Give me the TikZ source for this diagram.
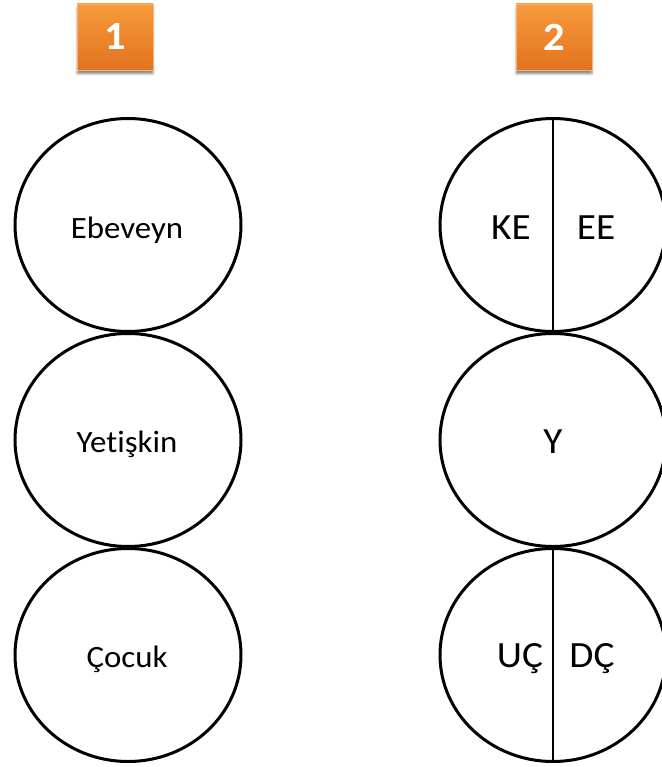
\documentclass[tikz,border=0pt]{standalone}
\usepackage{fontspec}
\setmainfont[Ligatures=NoCommon, FakeStretch=1.06]{Carlito}
\usetikzlibrary{shapes.geometric,shadows.blur}
\definecolor{orangetop}{HTML}{F89B3C}
\definecolor{orangebot}{HTML}{E2721F}
\definecolor{orangeedge}{HTML}{F6B27A}
\tikzset{
  egostate/.style={ellipse, draw=black, line width=3pt, minimum width=226pt, minimum height=213pt, inner sep=0pt},
  numbox/.style={rectangle, draw=orangeedge, line width=0.8pt, top color=orangetop, bottom color=orangebot,
    minimum width=76pt, minimum height=66pt, text=white, font=\bfseries\fontsize{40}{40}\selectfont,
    blur shadow={shadow xshift=0pt, shadow yshift=-4pt, shadow blur steps=6, shadow opacity=45}},
  divider/.style={draw=black, line width=1.4pt},
  lbl/.style={anchor=base, inner sep=0pt, font=\fontsize{31}{31}\selectfont},
  half/.style={anchor=base, inner sep=0pt, font=\fontsize{37}{37}\selectfont}
}
\begin{document}
\begin{tikzpicture}[x=1pt, y=-1pt]
  \useasboundingbox (0,0) rectangle (661,767);

  % numbered headers
  \node[numbox] (n1) at (115,37) {1};
  \node[numbox] (n2) at (554,37) {2};

  % first model: three ego states
  \node[egostate] (p1) at (128,225) {};
  \node[egostate] (a1) at (128,440) {};
  \node[egostate] (c1) at (128,655) {};
  \node[lbl] (pt) at (127,238) {Ebeveyn};
  \node[lbl] (at) at (127,452) {Yetişkin};
  \node[lbl] (ct) at (127,667) {Çocuk};

  % second model: functional ego states
  \node[egostate] (p2) at (553,225) {};
  \node[egostate] (a2) at (553,440) {};
  \node[egostate] (c2) at (553,655) {};

  \draw[divider] (p2.north) -- (p2.south);
  \draw[divider] (c2.north) -- (c2.south);

  \node[half] (ke) at (511,239) {KE};
  \node[half] (ee) at (596,239) {EE};
  \node[half] (y)  at (553,453) {Y};
  \node[half] (uc) at (520,667) {UÇ};
  \node[half] (dc) at (592,667) {DÇ};
\end{tikzpicture}
\end{document}
